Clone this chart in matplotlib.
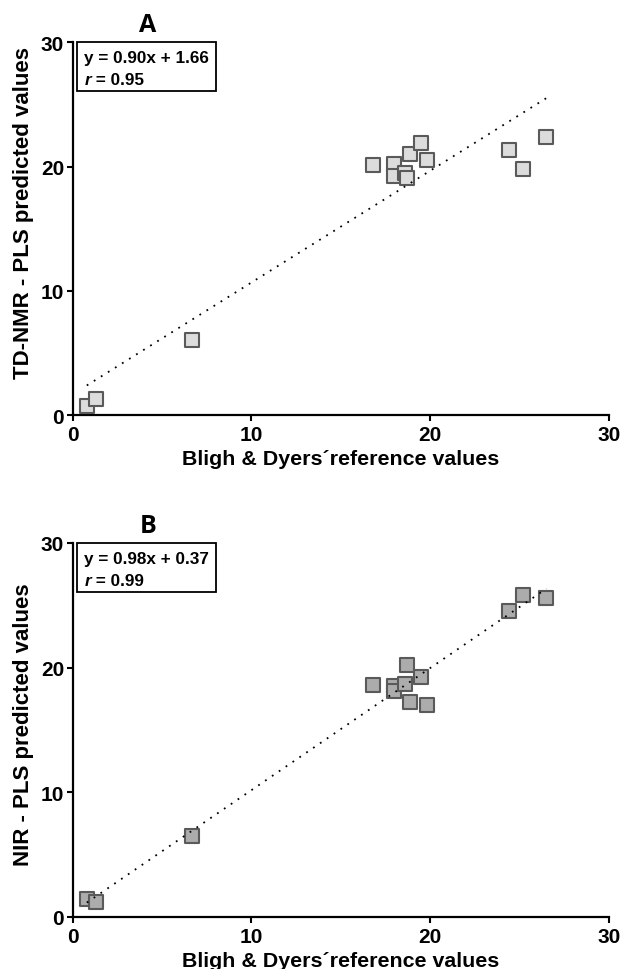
import numpy as np
import matplotlib.pyplot as plt
from matplotlib.patches import Rectangle

# Bligh & Dyer reference values (same samples in both panels)
ref = [0.8, 1.3, 6.7, 16.8, 18.0, 18.0, 18.6, 18.7, 18.9, 19.5, 19.8, 24.4, 25.2, 26.5]
tdnmr = [0.75, 1.26, 6.06, 20.14, 20.19, 19.25, 19.44, 19.04, 21.0, 21.88, 20.51, 21.37, 19.79, 22.37]
nir = [1.44, 1.23, 6.52, 18.60, 18.56, 18.16, 18.72, 20.22, 17.23, 19.29, 17.01, 24.56, 25.82, 25.60]

panels = ['A', 'B']
ylabels = ['TD-NMR - PLS predicted values', 'NIR - PLS predicted values']
slopes = [0.90, 0.98]
intercepts = [1.66, 0.37]
r_values = [0.95, 0.99]
ticks = [0, 10, 20, 30]

plt.rcParams['font.family'] = ['Liberation Sans', 'DejaVu Sans']
plt.rcParams['font.weight'] = 'bold'

fig = plt.figure(figsize=(6.22, 9.70), dpi=100)
W, H = 622, 970

def add_axes(left, top, right, bottom):
    return fig.add_axes([left / W, 1 - bottom / H, (right - left) / W, (bottom - top) / H])

ax_a = add_axes(72.5, 43.3, 609, 416)
ax_b = add_axes(72.5, 544, 609, 918)

faces = ['#dcdcdc', '#acacac']
ylab_pos = [0.544, 0.517]
title_y = [25, 527]

for i, (ax, pred) in enumerate(zip([ax_a, ax_b], [tdnmr, nir])):
    ax.scatter(ref, pred, marker='s', s=92, facecolor=faces[i], edgecolor='#5a5a5a',
               linewidth=1.5, zorder=3, clip_on=False)
    xl = np.array([min(ref), max(ref)])
    ax.plot(xl, slopes[i] * xl + intercepts[i], color='black', linewidth=1.3,
            linestyle=(0, (1, 3.6)), zorder=4)

    ax.set_xlim(0, 30)
    ax.set_ylim(0, 30)
    ax.set_xticks(ticks)
    ax.set_yticks(ticks)
    for s in ['top', 'right']:
        ax.spines[s].set_visible(False)
    for s in ['left', 'bottom']:
        ax.spines[s].set_linewidth(1.6)
    ax.tick_params(axis='both', length=4.5, width=1.5, labelsize=15, direction='out')
    ax.tick_params(axis='x', pad=3)
    ax.tick_params(axis='y', pad=1.5)
    for lab in ax.get_xticklabels() + ax.get_yticklabels():
        lab.set_fontweight('bold')

    ax.set_xlabel('Bligh & Dyers´reference values', fontsize=15.4, fontweight='bold')
    ax.xaxis.set_label_coords(0.5, -0.116)
    ax.xaxis.label.set_va('center')
    ax.set_ylabel(ylabels[i], fontsize=16, fontweight='bold')
    ax.yaxis.set_label_coords(-0.091, ylab_pos[i])
    ax.yaxis.label.set_va('center')

    # equation box
    ax.add_patch(Rectangle((0.008, 0.868), 0.26, 0.132, transform=ax.transAxes,
                           facecolor='white', edgecolor='black', linewidth=1.3,
                           clip_on=False, zorder=5))
    ax.text(0.022, 0.958, f'y = {slopes[i]:.2f}x + {intercepts[i]:.2f}',
            transform=ax.transAxes, fontsize=12.3, fontweight='bold',
            va='center', ha='left', zorder=6)
    rt = ax.text(0.022, 0.9, 'r', transform=ax.transAxes, fontsize=12.3,
                 fontweight='bold', fontstyle='italic', va='center', ha='left', zorder=6)
    ax.annotate(f' = {r_values[i]:.2f}', xy=(1, 0), xycoords=rt, va='bottom', ha='left',
                fontsize=12.3, fontweight='bold', zorder=6)

    fig.text(148 / W, 1 - title_y[i] / H, panels[i], fontsize=18, fontweight='bold',
             family=['Open Sans', 'DejaVu Sans'], ha='center', va='center')

fig.savefig('out.png', dpi=100)
plt.close(fig)
